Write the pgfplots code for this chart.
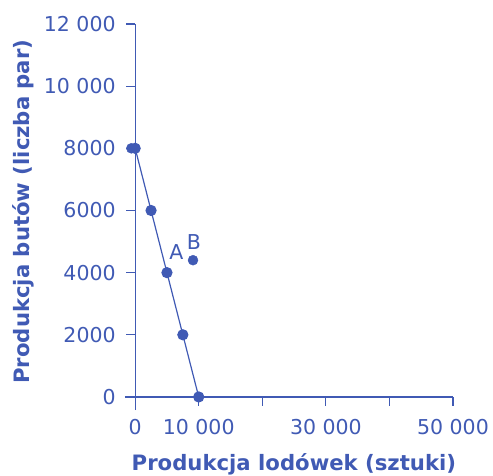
\documentclass[border=0pt]{standalone}
\usepackage{pgfplots}
\pgfplotsset{compat=1.18}
\usepackage{fontspec}
\setmainfont{DejaVu Sans}
\definecolor{cb}{RGB}{64,90,180}
\begin{document}
\begin{tikzpicture}[x=1pt,y=1pt]
\useasboundingbox (-125,-65) rectangle (368,410);
\begin{axis}[
  at={(0,0)}, anchor=south west,
  scale only axis, width=328pt, height=386pt,
  axis lines=middle,
  axis line style={-, draw=cb, line width=1.1pt},
  xmin=-1600, xmax=50000, ymin=-420, ymax=12000,
  scaled ticks=false,
  xtick={0,10000,20000,30000,40000,50000},
  xticklabels={0,10 000,,30 000,,50 000},
  ytick={0,2000,4000,6000,8000,10000,12000},
  yticklabels={0,2000,4000,6000,8000,10 000,12 000},
  hide obscured x ticks=false, hide obscured y ticks=false,
  tick align=outside, major tick length=9pt,
  tick style={draw=cb, line width=1.1pt},
  /pgf/number format/assume math mode=true,
  tick label style={font=\fontsize{20.5}{24}\selectfont, text=cb},
  xticklabel style={yshift=-10pt},
  yticklabel style={xshift=-7pt},
  xlabel={Produkcja lodówek (sztuki)},
  ylabel={Produkcja butów (liczba par)},
  label style={font=\fontsize{21.2}{24}\selectfont\bfseries, text=cb},
  xlabel style={at={(axis description cs:0.515,-0.14)}, anchor=center},
  ylabel style={at={(axis description cs:-0.311,0.514)}, anchor=center, rotate=90},
  clip=false,
]
\addplot[cb, line width=1.2pt, mark=*, mark size=5pt, mark options={fill=cb, draw=cb}]
  coordinates {(0,8000) (2500,6000) (5000,4000) (7500,2000) (10000,0)};
\addplot[only marks, mark=*, mark size=5pt, color=cb]
  coordinates {(-600,8000) (9100,4400)};
\node[text=cb, font=\fontsize{20.5}{24}\selectfont, anchor=center] at (axis cs:6500,4650) {A};
\node[text=cb, font=\fontsize{20.5}{24}\selectfont, anchor=center] at (axis cs:9250,5000) {B};
\end{axis}
\end{tikzpicture}
\end{document}
